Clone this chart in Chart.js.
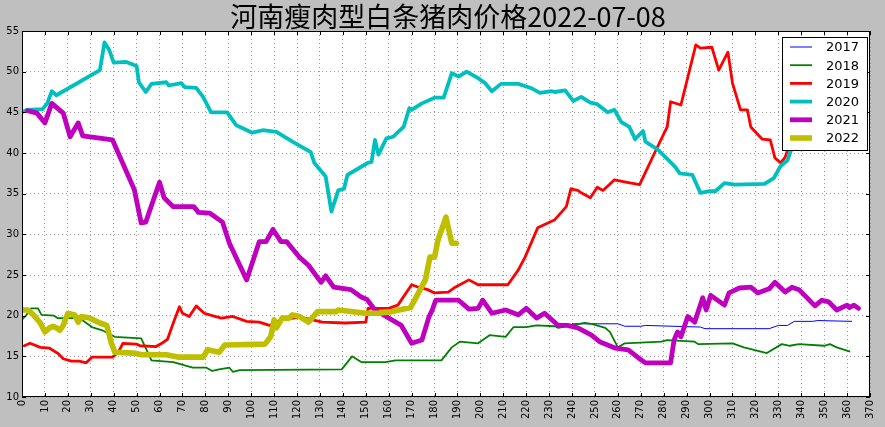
<!DOCTYPE html>
<html>
<head>
<meta charset="utf-8">
<script src="https://cdn.jsdelivr.net/npm/chart.js@4/dist/chart.umd.min.js"></script>
<style>
  body { margin: 0; background: #bfbfbf; }
  canvas { display: block; }
</style>
</head>
<body>
<canvas id="c" width="885" height="427"></canvas>
<script>
// day of year, price
const s2017 = [[240,19.0],[248,19.0],[260,19.0],[263,18.7],[270,18.7],[272,18.8],[296,18.6],[298,18.4],[326,18.4],[330,18.8],[334,18.8],[337,19.3],[345,19.3],[347,19.4],[362,19.3]];
const s2018 = [[0,19.5],[2,20.1],[4,20.9],[7,20.9],[8.5,20.1],[14,20.0],[15.5,19.7],[25,19.7],[30.5,18.6],[35,18.2],[40.5,17.4],[52,17.2],[56.5,14.5],[66,14.3],[74.5,13.6],[80.5,13.6],[83,13.2],[86,13.4],[90.5,13.6],[92,13.1],[95,13.3],[139.5,13.4],[144,15.0],[148,14.3],[158.5,14.3],[163,14.5],[183,14.5],[187.5,16.1],[191,16.8],[199,16.6],[204,17.6],[211,17.4],[214.5,18.6],[220,18.6],[224.5,18.8],[232.5,18.7],[234,18.5],[245.5,19.1],[248.5,19.0],[254.5,18.5],[256.5,18.0],[260,16.1],[263,16.6],[279,16.8],[281.5,17.0],[293.5,16.8],[295,16.5],[310,16.6],[315,16.1],[325,15.4],[331.5,16.5],[335,16.3],[339,16.5],[350,16.3],[352.5,16.5],[355.5,16.1],[361,15.6]];
const s2019 = [[1,16.3],[3.5,16.6],[8,16.1],[12,16.0],[15.5,15.4],[18,14.7],[21.5,14.4],[25,14.4],[28,14.2],[30.5,14.9],[39.5,14.9],[42,15.5],[44,16.6],[50,16.5],[51.5,16.3],[58.5,16.2],[61,16.6],[63.5,17.1],[66,19.1],[68.7,21.1],[70,20.3],[73,19.9],[76,21.2],[79.5,20.3],[83,20.0],[87,19.7],[92,19.9],[98,19.3],[103.5,19.2],[108,18.8],[113,19.5],[121,19.8],[125,19.6],[131,19.2],[141,19.1],[150,19.2],[151,20.9],[160,20.9],[164,21.3],[170,23.8],[173,23.5],[177,23.2],[180,22.8],[186,22.9],[189,23.5],[195,24.4],[199,23.8],[212,23.8],[216.5,25.6],[219.5,27.2],[225,30.8],[232.5,31.8],[237.5,33.4],[239.5,35.6],[242.5,35.4],[244,35.1],[248,34.5],[251,35.8],[253.5,35.4],[258.5,36.7],[264,36.4],[269.5,36.1],[276,40.0],[281.5,43.2],[283,46.3],[287.5,45.9],[294,53.3],[296,52.9],[301,53.0],[304,50.2],[308,52.4],[310,48.6],[313.5,45.3],[316.5,45.3],[318,43.2],[323,41.7],[326.5,41.6],[328.5,39.4],[331,38.8],[333,39.5],[334.5,40.8]];
const s2020 = [[0,45.0],[2,45.3],[9,45.4],[11,46.1],[13,47.6],[15,47.1],[34,50.2],[36,53.6],[38,52.7],[40,51.1],[45.5,51.2],[50,50.7],[51,48.7],[54,47.5],[56.5,48.5],[63,48.7],[64,48.3],[69.5,48.6],[71,48.1],[76,48.0],[79,46.9],[82.5,45.0],[86,45.0],[89.5,45.0],[93.5,43.4],[100.5,42.5],[105,42.8],[111,42.6],[118,41.4],[126,40.1],[127.5,38.8],[132.5,37.1],[135,32.8],[138,35.4],[140.5,35.6],[142,37.3],[151,38.8],[152.5,38.9],[154,41.6],[155.5,39.8],[159,41.8],[162,42.0],[166.5,43.2],[169,45.5],[170,45.3],[174.5,46.1],[180,46.8],[184,46.8],[187.5,49.8],[190.5,49.4],[194,50.0],[199,49.2],[202,48.6],[205,47.6],[209,48.5],[216.5,48.5],[222,48.0],[226,47.4],[231,47.6],[232.5,47.5],[237,47.7],[240.5,46.4],[244,46.9],[248,46.2],[251,46.0],[255.5,45.0],[258.5,45.3],[261.5,43.8],[265,43.2],[267.5,41.7],[271,42.7],[272,41.4],[277.5,40.4],[285,38.3],[287,37.5],[292.5,37.3],[296,35.1],[300,35.3],[302.5,35.3],[306.5,36.3],[311,36.1],[324,36.2],[328,36.9],[331,38.4],[334,39.1],[335.5,40.3],[337,41.5]];
const s2021 = [[2.5,45.2],[6.5,44.9],[10,43.7],[13,46.1],[18,44.9],[21,42.0],[24.5,43.7],[26.5,42.1],[39.5,41.6],[49,35.5],[52,31.4],[54,31.5],[60,36.4],[62,34.5],[66,33.4],[75,33.4],[77,32.7],[82,32.6],[87.5,31.5],[90.5,28.9],[98,24.4],[103.5,29.1],[106.5,29.1],[109.5,30.6],[113,29.1],[115.5,29.1],[121,27.2],[125,26.2],[130.5,24.1],[132.5,24.9],[136,23.5],[143.5,23.2],[148,22.3],[150.5,22.0],[154,20.7],[165.5,18.8],[170,16.6],[174.5,17.0],[177.5,19.8],[179,20.7],[180.5,21.9],[190.5,21.9],[195,20.8],[199,20.9],[201,21.9],[205,20.3],[211,20.7],[216.5,20.1],[220,20.9],[224.5,19.7],[228,20.3],[234,18.8],[238,18.8],[242.5,18.5],[248.5,17.6],[252,16.8],[259,16.0],[264.5,15.8],[269,14.8],[272,14.2],[283,14.2],[284.5,17.0],[286,18.0],[287.5,17.4],[290.5,19.9],[293.5,19.2],[297,22.2],[298.5,20.7],[300.5,22.5],[306.5,21.3],[308.5,22.8],[313,23.4],[318,23.5],[321,22.8],[326,23.3],[328.5,24.1],[333,22.9],[336,23.5],[339,23.2],[346,21.2],[349,21.9],[352,21.7],[355.5,20.7],[360,21.3],[361,21.0],[363,21.3],[365,20.9]];
const s2022 = [[0.5,20.7],[2.5,20.7],[5,20.1],[8,19.1],[10,18.0],[12,18.5],[13.5,18.7],[15,18.5],[16.5,18.2],[18,18.8],[20,20.3],[23,20.1],[24.5,19.2],[26,19.9],[29.5,19.7],[34,19.1],[37,18.8],[39,16.6],[40.5,15.5],[48.5,15.4],[52.5,15.2],[63,15.2],[68.5,14.9],[79,14.9],[81,15.8],[86,15.5],[88.5,16.4],[106,16.5],[108.5,17.4],[110,19.5],[111,18.5],[113.5,19.7],[116.5,19.7],[118,20.1],[121,19.9],[125,19.2],[129,20.5],[137,20.5],[138,20.7],[150,20.3],[155.5,20.3],[161.5,20.5],[169.5,21.0],[173,22.8],[176,24.4],[178,27.2],[180,27.2],[181.5,29.3],[185,32.1],[186.5,30.2],[187.5,28.9],[189.5,28.9]];

const years = ['2017', '2018', '2019', '2020', '2021', '2022'];
const series = [s2017, s2018, s2019, s2020, s2021, s2022];
const colors = ['#0000ff', '#008000', '#ff0000', '#00bfbf', '#bf00bf', '#bfbf00'];
const widths = [1, 1.8, 2.8, 3.8, 4.8, 5.6];

const titleText = '河南瘦肉型白条猪肉价格2022-07-08';

const datasets = series.map((s, i) => ({
  label: years[i],
  data: s.map(p => ({ x: p[0], y: p[1] })),
  borderColor: colors[i],
  backgroundColor: colors[i],
  borderWidth: widths[i],
  borderJoinStyle: 'round',
  borderCapStyle: 'round',
  pointRadius: 0,
  tension: 0,
  order: series.length - i
}));

// grey figure, white axes, title, frame, inward ticks, boxed legend
const mplLook = {
  id: 'mplLook',
  beforeDraw(chart) {
    const { ctx, chartArea: a } = chart;
    ctx.save();
    ctx.fillStyle = '#bfbfbf';
    ctx.fillRect(0, 0, chart.width, chart.height);
    ctx.fillStyle = '#ffffff';
    ctx.fillRect(a.left, a.top, a.right - a.left, a.bottom - a.top);
    ctx.restore();
  },
  afterDraw(chart) {
    const { ctx, chartArea: a, scales } = chart;
    ctx.save();
    // frame
    ctx.strokeStyle = '#000';
    ctx.lineWidth = 1;
    ctx.strokeRect(a.left + 0.5, a.top + 0.5, a.right - a.left - 1, a.bottom - a.top - 1);
    // inward ticks
    ctx.beginPath();
    scales.x.ticks.forEach(t => {
      const px = Math.round(scales.x.getPixelForValue(t.value)) + 0.5;
      ctx.moveTo(px, a.bottom); ctx.lineTo(px, a.bottom - 4);
      ctx.moveTo(px, a.top); ctx.lineTo(px, a.top + 4);
    });
    scales.y.ticks.forEach(t => {
      const py = Math.round(scales.y.getPixelForValue(t.value)) + 0.5;
      ctx.moveTo(a.left, py); ctx.lineTo(a.left + 4, py);
      ctx.moveTo(a.right, py); ctx.lineTo(a.right - 4, py);
    });
    ctx.stroke();

    // title
    ctx.fillStyle = '#000';
    ctx.font = '27px "Noto Sans CJK SC"';
    ctx.textAlign = 'center';
    ctx.textBaseline = 'middle';
    ctx.fillText(titleText, 448, 17);

    // legend
    const bx = 782, by = 37, bw = 85, bh = 113;
    ctx.fillStyle = '#fff';
    ctx.fillRect(bx, by, bw, bh);
    ctx.strokeStyle = '#000';
    ctx.strokeRect(bx + 0.5, by + 0.5, bw, bh);
    ctx.font = '13px "DejaVu Sans"';
    ctx.textAlign = 'left';
    years.forEach((y, i) => {
      const ry = 47 + i * 18.2;
      ctx.strokeStyle = colors[i];
      ctx.lineWidth = widths[i];
      ctx.beginPath();
      ctx.moveTo(790, ry); ctx.lineTo(812, ry);
      ctx.stroke();
      ctx.fillStyle = '#000';
      ctx.fillText(y, 826, ry + 1);
    });
    ctx.restore();
  }
};

new Chart(document.getElementById('c'), {
  type: 'line',
  data: { datasets },
  options: {
    responsive: false,
    animation: false,
    devicePixelRatio: 1,
    layout: { padding: { top: 31, right: 12, left: 0, bottom: 0 } },
    plugins: { legend: { display: false }, tooltip: { enabled: false } },
    scales: {
      x: {
        type: 'linear',
        min: 0, max: 370,
        afterFit: s => { s.height = 30; },
        ticks: {
          stepSize: 10,
          autoSkip: false,
          maxRotation: 90, minRotation: 90,
          padding: 3,
          color: '#000',
          font: { family: 'DejaVu Sans', size: 10 }
        },
        grid: { color: '#888', drawTicks: false, lineWidth: 0.8 },
        border: { display: false, dash: [1, 3] }
      },
      y: {
        min: 10, max: 55,
        afterFit: s => { s.width = 22; },
        ticks: {
          stepSize: 5,
          padding: 3,
          color: '#000',
          font: { family: 'DejaVu Sans', size: 10 }
        },
        grid: { color: '#888', drawTicks: false, lineWidth: 0.8 },
        border: { display: false, dash: [1, 3] }
      }
    }
  },
  plugins: [mplLook]
});
</script>
</body>
</html>
